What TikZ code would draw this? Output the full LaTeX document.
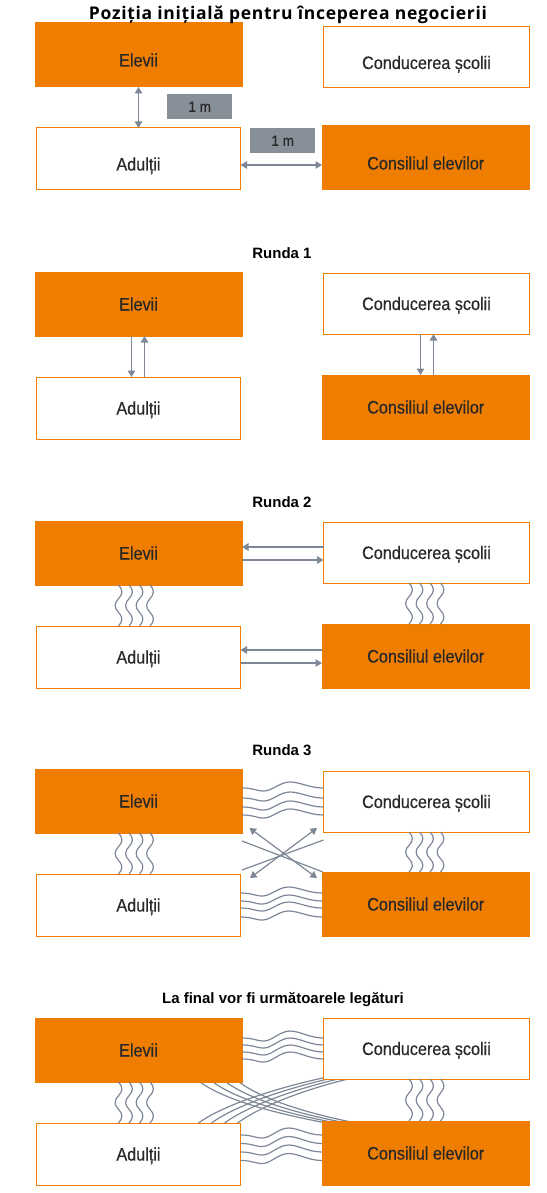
\documentclass[tikz,border=0pt]{standalone}
\usepackage{fontspec}
\setmainfont{Liberation Sans}[FakeStretch=0.9,FakeBold=0.4]
\newfontfamily\titlefont{Open Sans}[LetterSpace=4]
\newfontfamily\headfont{Liberation Sans}
\usetikzlibrary{calc,arrows.meta,backgrounds}
\definecolor{orangeC}{RGB}{238,125,0}
\definecolor{lineC}{RGB}{125,135,150}
\definecolor{boxgray}{RGB}{135,143,153}
\definecolor{textC}{RGB}{40,40,40}
\begin{document}
\begin{tikzpicture}
[x=1pt,y=-1pt,>={Triangle[length=6.5pt,width=7.5pt]}]
\tikzstyle{full box}=[draw=orangeC,fill=orangeC,line width=1pt,inner sep=0pt,outer sep=0pt,anchor=north west,text=textC,text depth=0pt,font=\fontsize{18}{20}\selectfont]
\tikzstyle{empty box}=[full box,fill=white]
\tikzstyle{gray box}=[fill=boxgray,inner sep=0pt,anchor=north west,minimum width=65pt,minimum height=25pt,text=textC,font=\fontsize{15}{17}\selectfont]
\tikzstyle{section title}=[font=\headfont\bfseries\fontsize{15}{17}\selectfont,text=black]
\tikzstyle{link}=[draw=lineC,line width=1.2pt]
\tikzstyle{wavy}=[link,to path={.. controls ($(\tikztostart)!1/9!(\tikztotarget)+(4.5,0)$) and ($(\tikztostart)!2/9!(\tikztotarget)+(4.5,0)$) .. ($(\tikztostart)!1/3!(\tikztotarget)$) .. controls ($(\tikztostart)!4/9!(\tikztotarget)+(-4.5,0)$) and ($(\tikztostart)!5/9!(\tikztotarget)+(-4.5,0)$) .. ($(\tikztostart)!2/3!(\tikztotarget)$) .. controls ($(\tikztostart)!7/9!(\tikztotarget)+(4.5,0)$) and ($(\tikztostart)!8/9!(\tikztotarget)+(4.5,0)$) .. (\tikztotarget)}]

\useasboundingbox (0,0) rectangle (546,1193);

% the four groups, once per round
\foreach \i/\t/\c/\h in {0/23/27/23,1/272/273/13,2/521/522/13,3/769/771/13,4/1018/1018/13}{
  \node(e\i)[full box,text height=\h pt,minimum width=207pt,minimum height=64pt] at (35,\t){Elevii};
  \node(c\i)[empty box,text height=\h pt,minimum width=206pt,minimum height=61pt] at (323.5,\c){Conducerea școlii};
  \node(a\i)[empty box,text height=\h pt,minimum width=204pt,minimum height=62pt] at (36.5,\t+105){Adulții};
  \node(s\i)[full box,text height=\h pt,minimum width=207.5pt,minimum height=64pt] at (322,\t+103){Consiliul elevilor};
}

\node(t0)[font=\titlefont\bfseries\fontsize{17.5}{20}\selectfont,text=black] at (288,15){Poziția inițială pentru începerea negocierii};
\node(t1)[section title] at (282,253){Runda 1};
\node(t2)[section title] at (282,502){Runda 2};
\node(t3)[section title] at (282,750){Runda 3};
\node(t4)[section title] at (283,1000){La final vor fi următoarele legături};

% start
\draw[link,<->] (e0.south) -- (e0.south |- a0.north);
\node(m1)[gray box] at (167,94){1 m};
\node(m2)[gray box] at (250,128){1 m};
\draw[link,<->] ($(a0.east)+(0,6)$) -- ($(a0.east -| s0.west)+(0,6)$);

% round 1
\draw[link,->] ($(e1.south)+(-7,0)$) -- ($(e1.south |- a1.north)+(-7,0)$);
\draw[link,->] ($(e1.south |- a1.north)+(6,0)$) -- ($(e1.south)+(6,0)$);
\draw[link,->] ($(c1.south)+(-6,0)$) -- ($(c1.south |- s1.north)+(-6,0)$);
\draw[link,->] ($(c1.south |- s1.north)+(7,0)$) -- ($(c1.south)+(7,0)$);

% round 2
\draw[link,->] ($(e2.east -| c2.west)+(0,-6)$) -- ($(e2.east)+(0,-6)$);
\draw[link,->] ($(e2.east)+(0,7)$) -- ($(e2.east -| c2.west)+(0,7)$);
\draw[link,->] ($(a2.east -| s2.west)+(0,-7)$) -- ($(a2.east)+(0,-7)$);
\draw[link,->] ($(a2.east)+(0,6)$) -- ($(a2.east -| s2.west)+(0,6)$);

\foreach \i in {2,3,4}
  \foreach \d in {-20,-9.5,1,11.5}{
    \coordinate(p) at ($(e\i.south)+(\d,0)$);
    \coordinate(q) at ($(e\i.south |- a\i.north)+(\d,0)$);
    \draw[wavy] (p) to (q);
    \coordinate(p) at ($(c\i.south)+(\d+2.5,0)$);
    \coordinate(q) at ($(c\i.south |- s\i.north)+(\d+2.5,0)$);
    \draw[wavy] (p) to (q);
  }

% round 3
\foreach \d in {-13,-3,6,14}
  \draw[link] ($(e3.east)+(0,\d)$) .. controls +(12,0) and +(-8,0) .. ($(e3.east)+(22,\d+3)$) .. controls +(8,0) and +(-10,0) .. ($(e3.east)+(48,\d-6)$) .. controls +(10,0) and +(-14,0) .. ($(e3.east -| c3.west)+(0,\d)$);
\foreach \d in {-12,-4,3,12}
  \draw[link] ($(a3.east)+(0,\d)$) .. controls +(12,0) and +(-8,0) .. ($(a3.east)+(22,\d+3)$) .. controls +(8,0) and +(-10,0) .. ($(a3.east)+(48,\d-6)$) .. controls +(10,0) and +(-14,0) .. ($(a3.east -| s3.west)+(0,\d)$);
\draw[link,<->] ($(e3.south east)+(7.5,-5)$) -- ($(s3.north west)+(-5,6)$);
\draw[link,<->] ($(c3.south west)+(-6.5,-4)$) -- ($(a3.north east)+(9.5,4)$);
\draw[link] ($(e3.south east)+(0,8)$) -- ($(s3.north west)+(1,0)$);
\draw[link] ($(a3.north east)+(1.5,-4)$) -- ($(c3.south west)+(0,8)$);

% final
\foreach \d in {-12,-5,2,9}
  \draw[link] ($(e4.east)+(0,\d)$) .. controls +(12,0) and +(-8,0) .. ($(e4.east)+(22,\d+3)$) .. controls +(8,0) and +(-10,0) .. ($(e4.east)+(48,\d-7)$) .. controls +(10,0) and +(-14,0) .. ($(e4.east -| c4.west)+(0,\d)$);
\foreach \d in {-19,-10.5,-2,6.5}
  \draw[link] ($(a4.east)+(0,\d)$) .. controls +(12,0) and +(-8,0) .. ($(a4.east)+(22,\d+3)$) .. controls +(8,0) and +(-10,0) .. ($(a4.east)+(48,\d-7)$) .. controls +(10,0) and +(-14,0) .. ($(a4.east -| s4.west)+(0,\d)$);
\begin{pgfonlayer}{background}
\foreach \k in {0,1,2,3}{
  \draw[link] ($(e4.south east)+(-42+13*\k,0)$) .. controls +(30,22) and +(-30,-6) .. ($(s4.north west)+(4+10*\k,2)$);
  \draw[link] ($(a4.north east)+(-42+13*\k,0)$) .. controls +(30,-22) and +(-30,6) .. ($(c4.south west)+(4+10*\k,-2)$);
}
\end{pgfonlayer}
\end{tikzpicture}
\end{document}
